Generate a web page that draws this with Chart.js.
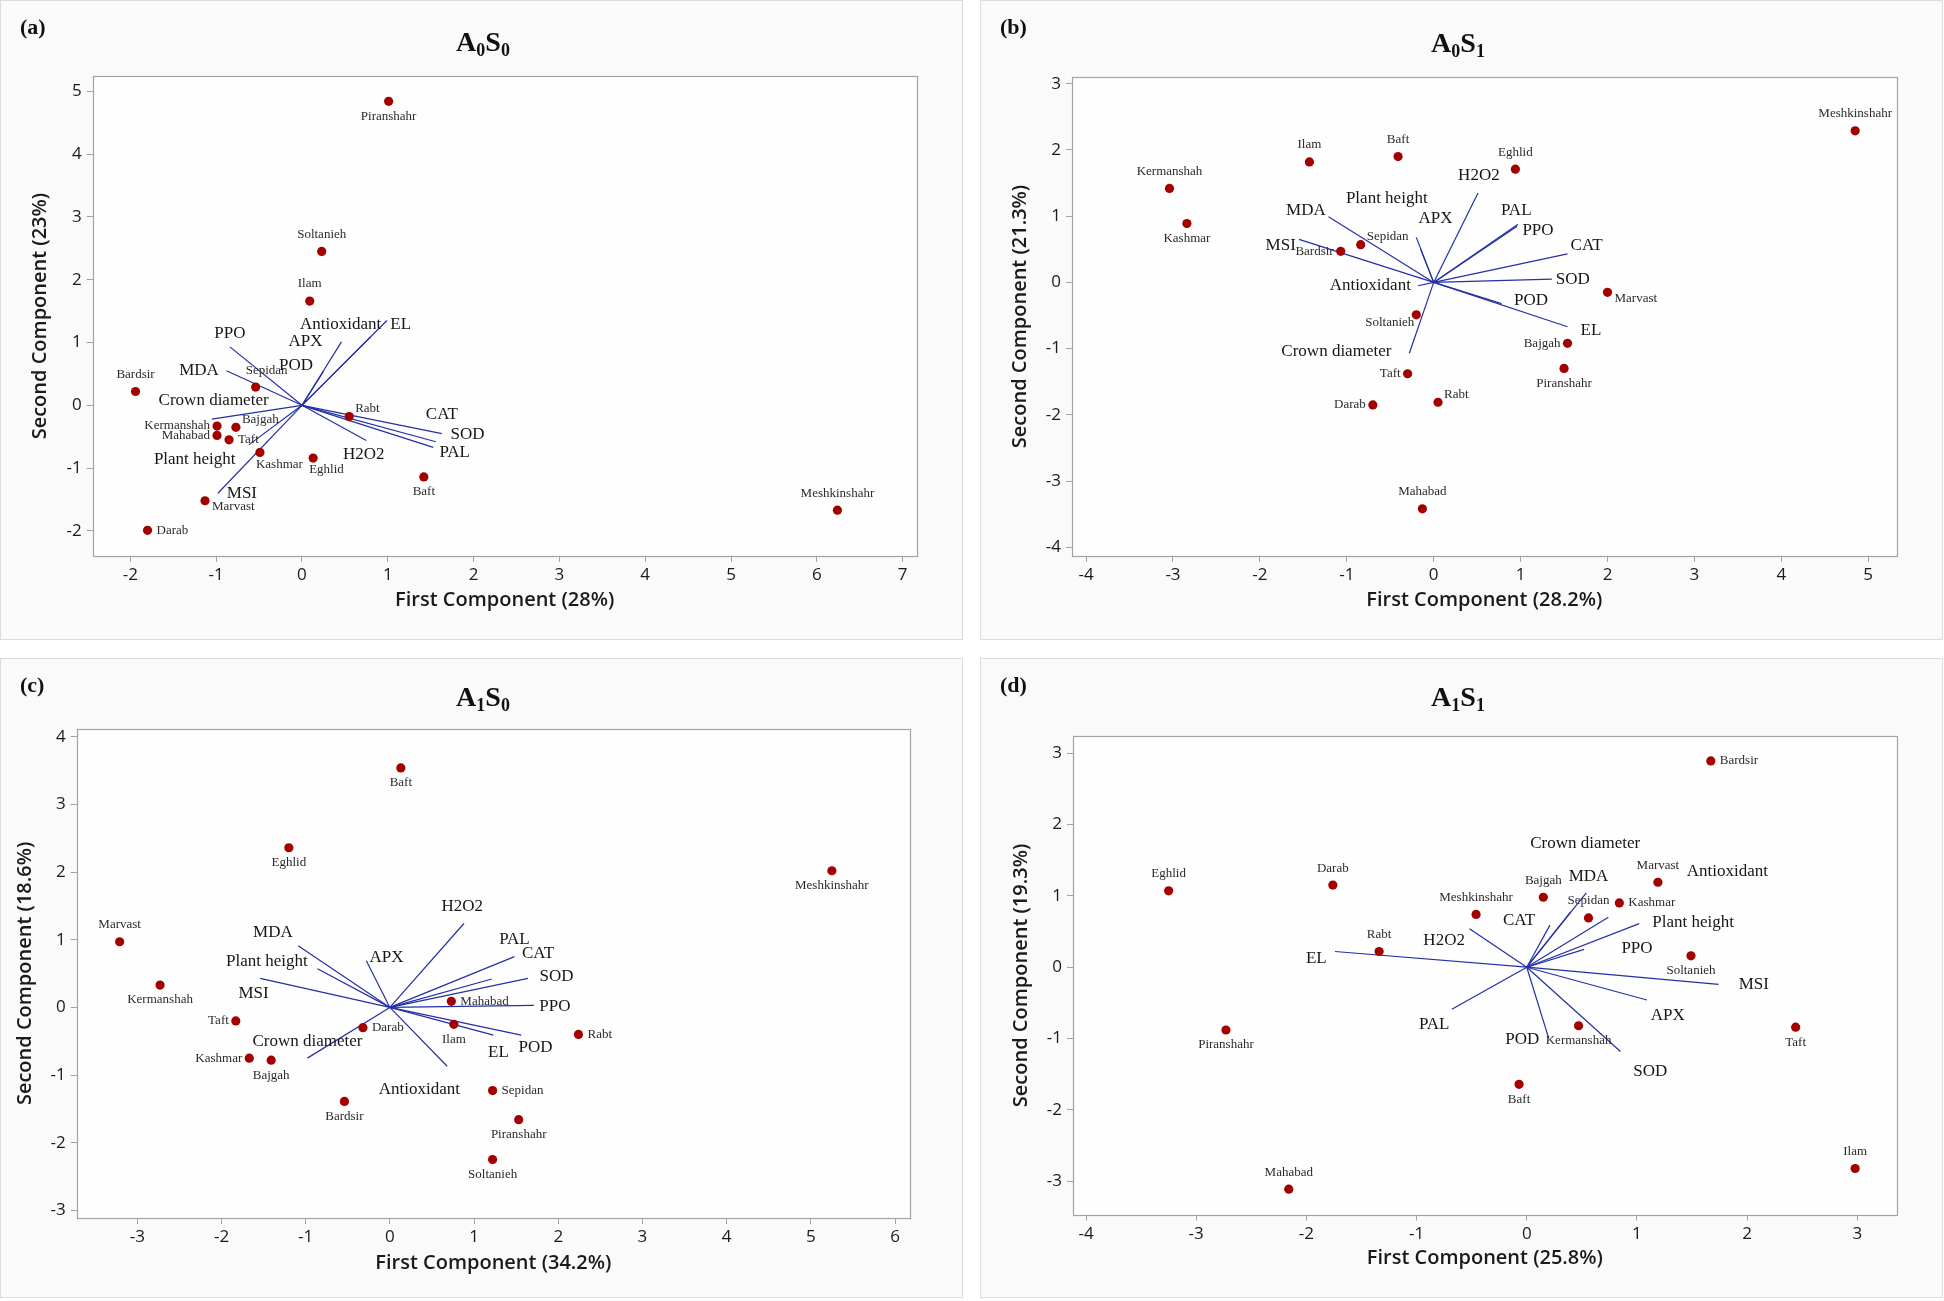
<!DOCTYPE html>
<html><head><meta charset="utf-8">
<script src="https://cdn.jsdelivr.net/npm/chart.js@4.4.1/dist/chart.umd.min.js"></script>
<style>
html,body{margin:0;padding:0;background:#ffffff;}
#wrap{position:relative;width:1944px;height:1301px;overflow:hidden;}
canvas{position:absolute;}
</style></head><body><div id="wrap">
<canvas id="ca" width="963" height="640" style="left:0px;top:0px"></canvas>
<canvas id="cb" width="963" height="640" style="left:980px;top:0px"></canvas>
<canvas id="cc" width="963" height="640" style="left:0px;top:658px"></canvas>
<canvas id="cd" width="963" height="640" style="left:980px;top:658px"></canvas>
</div>
<script>
// ---------- DATA ----------
const genotypes = ['Bajgah','Baft','Bardsir','Darab','Eghlid','Ilam','Kashmar','Kermanshah','Mahabad','Marvast','Meshkinshahr','Piranshahr','Rabt','Sepidan','Soltanieh','Taft'];
const traits = ['APX','Antioxidant','CAT','Crown diameter','EL','H2O2','MDA','MSI','PAL','Plant height','POD','PPO','SOD'];

// (a) A0S0
const a_pc1 = [-0.77,1.42,-1.94,-1.80,0.13,0.09,-0.49,-0.99,-0.99,-1.13,6.24,1.01,0.55,-0.54,0.23,-0.85];
const a_pc2 = [-0.35,-1.14,0.22,-1.99,-0.84,1.66,-0.75,-0.33,-0.48,-1.52,-1.67,4.84,-0.18,0.29,2.45,-0.55];
const a_load1 = [0.46,0.80,1.63,-1.05,0.99,0.75,-0.88,-0.98,1.53,-0.62,0.25,-0.84,1.56];
const a_load2 = [1.01,1.09,-0.45,-0.22,1.35,-0.56,0.55,-1.40,-0.67,-0.63,0.54,0.93,-0.58];
const a_labX = [0.04,0.45,1.63,-1.03,1.15,0.72,-1.20,-0.70,1.78,-1.25,-0.07,-0.84,1.93];
const a_labY = [1.01,1.28,-0.15,0.07,1.28,-0.78,0.55,-1.41,-0.75,-0.86,0.64,1.15,-0.47];
const a_xTicks = [-2,-1,0,1,2,3,4,5,6,7];
const a_yTicks = [-2,-1,0,1,2,3,4,5];

// (b) A0S1
const b_pc1 = [1.54,-0.41,-1.07,-0.70,0.94,-1.43,-2.84,-3.04,-0.13,2.00,4.85,1.50,0.05,-0.84,-0.20,-0.30];
const b_pc2 = [-0.92,1.90,0.47,-1.85,1.71,1.82,0.89,1.42,-3.42,-0.15,2.29,-1.30,-1.81,0.57,-0.49,-1.38];
const b_load1 = [-0.20,-0.18,1.54,-0.28,1.54,0.51,-1.21,-1.55,0.97,-0.15,0.78,0.96,1.36];
const b_load2 = [0.68,-0.05,0.43,-1.07,-0.67,1.35,0.99,0.65,0.88,0.50,-0.32,0.85,0.05];
const b_labX = [0.02,-0.73,1.76,-1.12,1.81,0.52,-1.47,-1.76,0.95,-0.54,1.12,1.20,1.60];
const b_labY = [0.97,-0.05,0.56,-1.04,-0.73,1.62,1.08,0.56,1.09,1.26,-0.28,0.79,0.04];
const b_xTicks = [-4,-3,-2,-1,0,1,2,3,4,5];
const b_yTicks = [-4,-3,-2,-1,0,1,2,3];

// (c) A1S0
const c_pc1 = [-1.41,0.13,-0.54,-0.32,-1.20,0.76,-1.67,-2.73,0.73,-3.21,5.25,1.53,2.24,1.22,1.22,-1.83];
const c_pc2 = [-0.78,3.54,-1.39,-0.30,2.36,-0.25,-0.75,0.33,0.09,0.97,2.02,-1.66,-0.40,-1.23,-2.25,-0.20];
const c_load1 = [-0.28,0.68,1.21,-0.98,1.23,0.88,-1.09,-1.54,1.48,-0.86,1.56,1.71,1.64];
const c_load2 = [0.69,-0.87,0.42,-0.75,-0.41,1.24,0.91,0.43,0.75,0.57,-0.41,0.03,0.43];
const c_labX = [-0.04,0.35,1.76,-0.98,1.29,0.86,-1.39,-1.62,1.48,-1.46,1.73,1.96,1.98];
const c_labY = [0.73,-1.21,0.79,-0.51,-0.66,1.49,1.10,0.20,1.01,0.68,-0.60,0.02,0.46];
const c_xTicks = [-3,-2,-1,0,1,2,3,4,5,6];
const c_yTicks = [-3,-2,-1,0,1,2,3,4];

// (d) A1S1
const d_pc1 = [0.15,-0.07,1.67,-1.76,-3.25,2.98,0.84,0.47,-2.16,1.19,-0.46,-2.73,-1.34,0.56,1.49,2.44];
const d_pc2 = [0.98,-1.64,2.89,1.15,1.07,-2.82,0.90,-0.82,-3.11,1.19,0.74,-0.88,0.22,0.69,0.16,-0.84];
const d_load1 = [1.09,0.74,0.21,0.40,-1.74,-0.52,0.54,1.74,-0.68,1.02,0.20,0.52,0.85];
const d_load2 = [-0.46,0.70,0.59,0.78,0.22,0.54,1.04,-0.24,-0.59,0.61,-1.00,0.25,-1.18];
const d_labX = [1.28,1.82,-0.07,0.53,-1.91,-0.75,0.56,2.06,-0.84,1.51,-0.04,1.00,1.12];
const d_labY = [-0.67,1.34,0.65,1.73,0.12,0.38,1.27,-0.24,-0.81,0.63,-1.01,0.26,-1.46];
const d_xTicks = [-4,-3,-2,-1,0,1,2,3];
const d_yTicks = [-3,-2,-1,0,1,2,3];

// ---------- STYLE / LAYOUT ----------
const a_place = ['ENE','S','N','E','SE','N','SE','W','W','ESE','N','S','ENE','NE','N','E'];
const b_place = ['W','N','W','W','N','N','S','N','N','ESE','N','S','ENE','ENE','SW','W'];
const c_place = ['S','S','S','E','S','S','W','S','E','N','S','S','E','E','S','W'];
const d_place = ['N','S','E','N','N','N','E','S','N','N','N','S','N','N','S','S'];

const PLACE = {
  N:['center',0,-17], S:['center',0,15], E:['left',9,0], W:['right',-7,0],
  NE:['left',-10,-17], SE:['left',-4,12], ENE:['left',6,-8], ESE:['left',7,6], SW:['right',-2,8]
};

const panels = [
  {id:'ca', tag:'(a)', sub1:'0', sub2:'0', xTitle:'First Component (28%)', yTitle:'Second Component (23%)',
   pc1:a_pc1, pc2:a_pc2, ld1:a_load1, ld2:a_load2, lbx:a_labX, lby:a_labY, place:a_place, xt:a_xTicks, yt:a_yTicks,
   L:{l:92.7,t:76.3,r:916.7,b:555.9, xmin:-2.439, xmax:7.164, ymin:-2.398, ymax:5.239, yTitleX:40.7, xTitleY:600, titleX:483, titleY:51}},
  {id:'cb', tag:'(b)', sub1:'0', sub2:'1', xTitle:'First Component (28.2%)', yTitle:'Second Component (21.3%)',
   pc1:b_pc1, pc2:b_pc2, ld1:b_load1, ld2:b_load2, lbx:b_labX, lby:b_labY, place:b_place, xt:b_xTicks, yt:b_yTicks,
   L:{l:92,t:77.1,r:916.7,b:555.9, xmin:-4.162, xmax:5.328, ymin:-4.131, ymax:3.101, yTitleX:40.3, xTitleY:600, titleX:478, titleY:52}},
  {id:'cc', tag:'(c)', sub1:'1', sub2:'0', xTitle:'First Component (34.2%)', yTitle:'Second Component (18.6%)',
   pc1:c_pc1, pc2:c_pc2, ld1:c_load1, ld2:c_load2, lbx:c_labX, lby:c_labY, place:c_place, xt:c_xTicks, yt:c_yTicks,
   L:{l:76.7,t:70.8,r:910,b:560, xmin:-3.720, xmax:6.178, ymin:-3.113, ymax:4.118, yTitleX:25, xTitleY:604.8, titleX:483, titleY:48}},
  {id:'cd', tag:'(d)', sub1:'1', sub2:'1', xTitle:'First Component (25.8%)', yTitle:'Second Component (19.3%)',
   pc1:d_pc1, pc2:d_pc2, ld1:d_load1, ld2:d_load2, lbx:d_labX, lby:d_labY, place:d_place, xt:d_xTicks, yt:d_yTicks,
   L:{l:93,t:78.2,r:916.7,b:556.7, xmin:-4.118, xmax:3.357, ymin:-3.467, ymax:3.236, yTitleX:41, xTitleY:600.6, titleX:478, titleY:48}}
];

const SANS = "'Open Sans', 'Noto Sans', sans-serif";
const SERIF = "'Liberation Serif', 'Times New Roman', serif";
const POINT_COLOR = '#a30000';
const VEC_COLOR = '#2330a6';
const FRAME_COLOR = '#a3a3a3';

const deco = {
  id:'deco',
  beforeDraw(chart, args, o) {
    const {ctx, width, height, chartArea:a} = chart;
    ctx.save();
    ctx.fillStyle = '#fafafa'; ctx.fillRect(0,0,width,height);
    ctx.strokeStyle = '#dcdcdc'; ctx.lineWidth = 1; ctx.strokeRect(0.5,0.5,width-1,height-1);
    ctx.fillStyle = '#fefefe'; ctx.fillRect(a.left,a.top,a.right-a.left,a.bottom-a.top);
    ctx.restore();
  },
  beforeDatasetsDraw(chart) {
    const {ctx, chartArea:a} = chart;
    ctx.save();
    ctx.strokeStyle = FRAME_COLOR; ctx.lineWidth = 1.2;
    ctx.strokeRect(Math.round(a.left)+0.5, Math.round(a.top)+0.5, Math.round(a.right-a.left), Math.round(a.bottom-a.top));
    ctx.restore();
  },
  afterDatasetsDraw(chart, args, o) {
    const p = o.panel; const {ctx} = chart;
    const xs = chart.scales.x, ys = chart.scales.y;
    ctx.save();
    // vector labels
    ctx.font = '17px ' + SERIF; ctx.fillStyle = '#161616'; ctx.textAlign = 'center'; ctx.textBaseline = 'middle';
    traits.forEach((t,i) => {
      ctx.fillText(t, xs.getPixelForValue(p.lbx[i]), ys.getPixelForValue(p.lby[i]));
    });
    // point labels
    ctx.font = '13px ' + SERIF; ctx.fillStyle = '#2b2b2b';
    genotypes.forEach((g,i) => {
      const pl = PLACE[p.place[i]];
      ctx.textAlign = pl[0];
      ctx.fillText(g, xs.getPixelForValue(p.pc1[i]) + pl[1], ys.getPixelForValue(p.pc2[i]) + pl[2]);
    });
    // tag
    ctx.textAlign = 'left'; ctx.textBaseline = 'middle'; ctx.fillStyle = '#111';
    ctx.font = 'bold 22px ' + SERIF;
    ctx.fillText(p.tag, 20, 28);
    // title A_x S_y
    const big = 'bold 28px ' + SERIF, small = 'bold 18px ' + SERIF;
    ctx.textBaseline = 'alphabetic';
    ctx.font = big; const wA = ctx.measureText('A').width, wS = ctx.measureText('S').width;
    ctx.font = small; const w1 = ctx.measureText(p.sub1).width, w2 = ctx.measureText(p.sub2).width;
    let x = p.L.titleX - (wA + w1 + wS + w2) / 2; const y = p.L.titleY;
    ctx.font = big; ctx.fillText('A', x, y); x += wA;
    ctx.font = small; ctx.fillText(p.sub1, x, y + 5); x += w1;
    ctx.font = big; ctx.fillText('S', x, y); x += wS;
    ctx.font = small; ctx.fillText(p.sub2, x, y + 5);
    ctx.restore();
  }
};

panels.forEach(p => {
  const canvas = document.getElementById(p.id);
  const W = canvas.width, H = canvas.height, L = p.L;
  const datasets = [{
    type:'scatter', data: p.pc1.map((v,i) => ({x:v, y:p.pc2[i]})),
    pointRadius:4.6, pointBackgroundColor:POINT_COLOR, pointBorderWidth:0, pointBorderColor:POINT_COLOR
  }];
  traits.forEach((t,i) => {
    datasets.push({type:'scatter', showLine:true, data:[{x:0,y:0},{x:p.ld1[i], y:p.ld2[i]}],
      borderColor:VEC_COLOR, borderWidth:1.2, pointRadius:0, fill:false});
  });
  const tickFont = {family:SANS, size:17};
  const titleFont = {family:SANS, size:20, weight:'600'};
  new Chart(canvas, {
    type:'scatter',
    data:{datasets},
    options:{
      responsive:false, animation:false, events:[],
      layout:{padding:{left:0, top:L.t, right:W - L.r, bottom:0}},
      plugins:{legend:{display:false}, tooltip:{enabled:false}, deco:{panel:p}},
      scales:{
        x:{type:'linear', min:L.xmin, max:L.xmax,
          afterFit:s => { s.height = H - L.b; },
          afterBuildTicks:s => { s.ticks = p.xt.map(v => ({value:v})); },
          ticks:{font:tickFont, color:'#1a1a1a', padding:3, maxRotation:0, autoSkip:false, callback:v => String(v)},
          grid:{drawOnChartArea:false, drawTicks:true, tickLength:6, color:FRAME_COLOR},
          border:{display:false},
          title:{display:true, text:p.xTitle, font:titleFont, color:'#1a1a1a', padding:{top:0, bottom:H - 12 - L.xTitleY}}
        },
        y:{type:'linear', min:L.ymin, max:L.ymax,
          afterFit:s => { s.width = L.l; },
          afterBuildTicks:s => { s.ticks = p.yt.map(v => ({value:v})); },
          ticks:{font:tickFont, color:'#1a1a1a', padding:5, autoSkip:false, callback:v => String(v)},
          grid:{drawOnChartArea:false, drawTicks:true, tickLength:6, color:FRAME_COLOR},
          border:{display:false},
          title:{display:true, text:p.yTitle, font:titleFont, color:'#1a1a1a', padding:{top:L.yTitleX - 12, bottom:0}}
        }
      }
    },
    plugins:[deco]
  });
});
</script>
</body></html>
